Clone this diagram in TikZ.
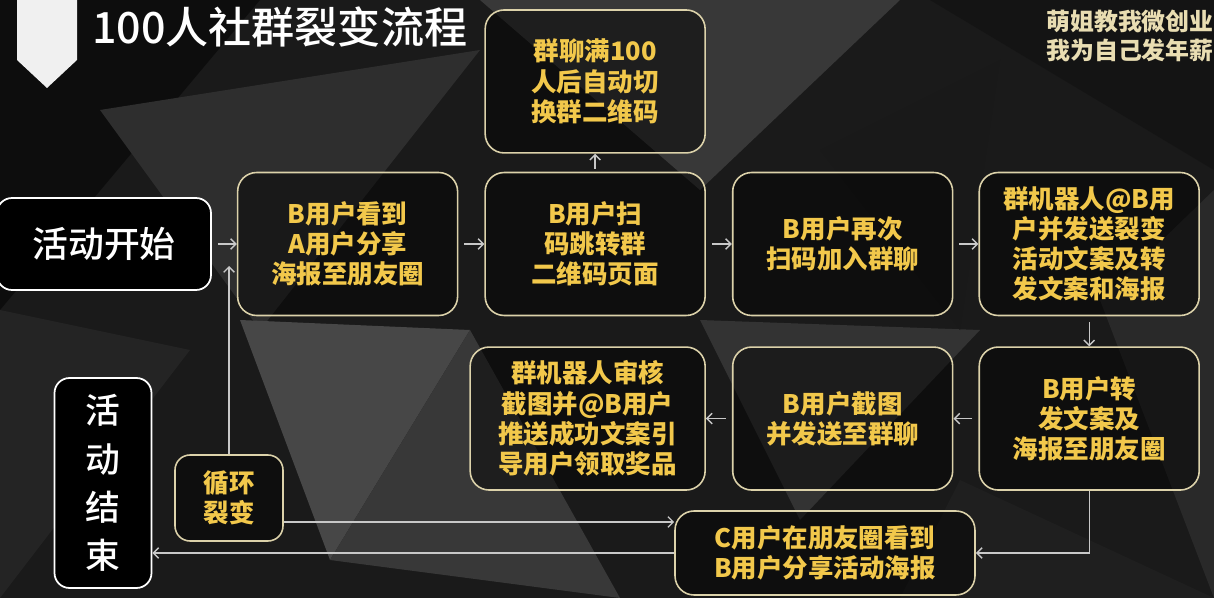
\documentclass[tikz,border=0pt]{standalone}
\usepackage{fontspec}
\setmainfont{Noto Sans CJK SC}
\newfontfamily\midfont{Noto Sans CJK SC Medium}
\usetikzlibrary{positioning, arrows.meta}

\definecolor{bgdark}{HTML}{1A1A1A}
\definecolor{boxline}{HTML}{DCD2AA}
\definecolor{gold}{HTML}{F2C84B}
\definecolor{cream}{HTML}{E9DDB2}
\definecolor{arrowgray}{HTML}{C8C8C8}

\begin{document}
\begin{tikzpicture}[
        x=0.02cm, y=-0.02cm,
        >={Straight Barb[length=3pt, width=6pt]},
        every node/.style={font=\bfseries},
        goldbox/.style={draw=boxline, line width=0.9pt, fill=black, fill opacity=0.45, text opacity=1, text=gold, rounded corners=0.38cm, minimum width=4.4cm, minimum height=2.86cm, align=center, font=\fontsize{14.5}{17.2}\selectfont\bfseries},
        whitebox/.style={draw=white, line width=1pt, fill=black, text=white, rounded corners=0.3cm, align=center},
        flow/.style={draw=arrowgray, line width=0.8pt, ->, shorten <=0.12cm}
    ]

    % background
    \fill[bgdark] (0,0) rectangle (1214,598);
    \useasboundingbox (0,0) rectangle (1214,598);
    \fill[black!95] (0,0) -- (260,0) -- (0,310) -- cycle;
    \fill[black!82] (100,110) -- (480,50) -- (260,330) -- cycle;
    \fill[black!72] (240,320) -- (470,330) -- (330,560) -- cycle;
    \fill[black!78] (330,560) -- (470,330) -- (620,598) -- cycle;
    \fill[black!78] (480,0) -- (900,0) -- (700,190) -- cycle;
    \fill[black!80] (700,320) -- (980,330) -- (800,520) -- cycle;
    \fill[black!92] (930,0) -- (1214,0) -- (1214,170) -- cycle;
    \fill[black!84] (1100,300) -- (1214,190) -- (1214,598) -- cycle;
    \fill[black!86] (0,310) -- (190,350) -- (0,598) -- cycle;
    \fill[black!90] (820,150) -- (1000,60) -- (960,330) -- cycle;
    \fill[black!88] (960,480) -- (1214,598) -- (900,598) -- cycle;

    % title
    \fill[white!94!black] (17,0) -- (77,0) -- (77,60) -- (47,88) -- (17,60) -- cycle;
    \node[anchor=west, text=white, font=\fontsize{24.5}{28}\midfont] (title) at (86,27) {100人社群裂变流程};
    \node[anchor=north west, text=cream, align=left, inner sep=0pt, font=\fontsize{13.6}{16.2}\selectfont\bfseries] (brand) at (1046,10) {萌姐教我微创业\\我为自己发年薪};

    % first row
    \node[whitebox, minimum width=4.28cm, minimum height=1.84cm, font=\fontsize{20.4}{24}\midfont] (start) at (104,244) {活动开始};
    \node[goldbox, right=0.5cm of start] (see) {B用户看到\\A用户分享\\海报至朋友圈};
    \node[goldbox, right=0.52cm of see] (scan) {B用户扫\\码跳转群\\二维码页面};
    \node[goldbox, right=0.52cm of scan] (join) {B用户再次\\扫码加入群聊};
    \node[goldbox, right=0.5cm of join] (robot) {群机器人@B用\\户并发送裂变\\活动文案及转\\发文案和海报};
    \node[goldbox, above=0.36cm of scan] (full) {群聊满100\\人后自动切\\换群二维码};

    % second row
    \node[goldbox, below=0.6cm of robot] (forward) {B用户转\\发文案及\\海报至朋友圈};
    \node[goldbox, left=0.5cm of forward] (shot) {B用户截图\\并发送至群聊};
    \node[goldbox, minimum width=4.7cm, left=0.52cm of shot] (audit) {群机器人审核\\截图并@B用户\\推送成功文案引\\导用户领取奖品};

    % bottom
    \node[goldbox, minimum width=6cm, minimum height=1.68cm] (cuser) at (825,553) {C用户在朋友圈看到\\B用户分享活动海报};
    \node[goldbox, minimum width=2.16cm, minimum height=1.72cm, rounded corners=0.3cm] (loop) at (229,498) {循环\\裂变};
    \node[whitebox, minimum width=1.94cm, minimum height=4.2cm, font=\fontsize{19.8}{27.5}\midfont] (finish) at (103,483) {活\\动\\结\\束};
    \coordinate (back) at (229,266);

    % connectors
    \draw[flow] (start) -- (see);
    \draw[flow] (see) -- (scan);
    \draw[flow] (scan) -- (join);
    \draw[flow] (join) -- (robot);
    \draw[flow, shorten <=0.06cm] (scan) -- (full);
    \draw[flow] (robot) -- (forward);
    \draw[flow] (forward) -- (shot);
    \draw[flow] (shot) -- (audit);
    \draw[flow, shorten <=0pt] (forward.south) |- (cuser.east);
    \draw[flow, shorten <=0pt] ([yshift=-0.48cm]loop.east) -- ([yshift=-0.48cm]loop.east -| cuser.west);
    \draw[flow, shorten <=0pt] (cuser.west) -- (cuser.west -| finish.east);
    \draw[flow, shorten <=0pt] (loop.north) -- (back);

\end{tikzpicture}
\end{document}
